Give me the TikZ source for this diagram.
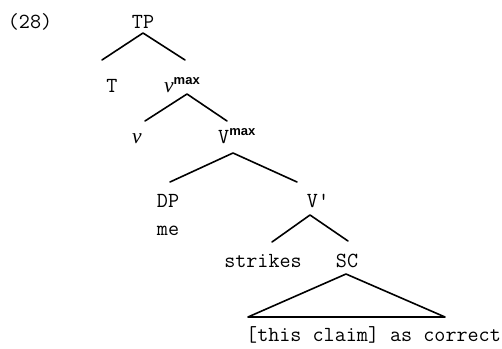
\documentclass[tikz,border=0pt]{standalone}
\usepackage{fontspec}
\setsansfont{Liberation Sans}
\newfontfamily\itfont{Liberation Serif}
\begin{document}
\begin{tikzpicture}[x=1pt,y=-1pt,
  lbl/.style={anchor=base,inner sep=0pt,font=\ttfamily\addfontfeatures{FakeBold=1.3}\fontsize{21.5}{23}\selectfont},
  br/.style={line width=1.6pt,line cap=round,line join=round}]
\useasboundingbox (0,0) rectangle (502,348);
\newcommand{\supmax}{\textsuperscript{\sffamily\bfseries\fontsize{13}{13}\selectfont max}}
% labels
\node[lbl] (ex) at (30,28) {(28)};
\node[lbl] (TP) at (143,28) {TP};
\node[lbl] (T) at (112,92) {T};
\node[lbl,anchor=base west] (vmax) at (164,92) {{\itfont\itshape v}\supmax};
\node[lbl,anchor=base west] (vsmall) at (132,143) {{\itfont\itshape v}};
\node[lbl,anchor=base west] (Vmax) at (218,143) {V\supmax};
\node[lbl] (DP) at (168,207) {DP};
\node[lbl] (me) at (168,235) {me};
\node[lbl] (Vbar) at (318,207) {V'};
\node[lbl] (strikes) at (263,267) {strikes};
\node[lbl] (SC) at (347,267) {SC};
\node[lbl,anchor=base west] (txt) at (246,341) {[this claim] as correct};
% branch points
\coordinate (a1) at (143,33); \coordinate (l1) at (102,60); \coordinate (r1) at (185,60);
\coordinate (a2) at (187,94); \coordinate (l2) at (145,121); \coordinate (r2) at (227,121);
\coordinate (a3) at (233,153); \coordinate (l3) at (170,182); \coordinate (r3) at (297,182);
\coordinate (a4) at (310,215); \coordinate (l4) at (272,242); \coordinate (r4) at (348,241);
\coordinate (a5) at (346,274); \coordinate (l5) at (248,317); \coordinate (r5) at (445,317);
\draw[br] (l1) -- (a1) -- (r1);
\draw[br] (l2) -- (a2) -- (r2);
\draw[br] (l3) -- (a3) -- (r3);
\draw[br] (l4) -- (a4) -- (r4);
\draw[br] (l5) -- (a5) -- (r5) -- cycle;
\end{tikzpicture}
\end{document}
